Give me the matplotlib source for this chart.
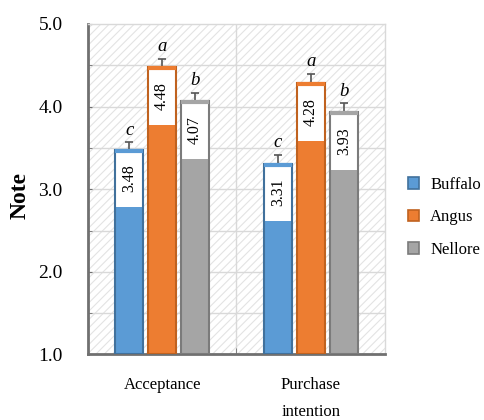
import numpy as np
import matplotlib.pyplot as plt
from matplotlib.patches import Rectangle

plt.rcParams['font.family'] = ['Liberation Serif', 'DejaVu Serif']
plt.rcParams['hatch.linewidth'] = 0.8
plt.rcParams['hatch.color'] = '#e3e3e3'

# Datos
categorias = ["Acceptance", "Purchase\nintention"]
razas = ["Buffalo", "Angus", "Nellore"]
medias = {
    "Buffalo": [3.48, 3.31],
    "Angus": [4.48, 4.28],
    "Nellore": [4.07, 3.93],
}
errores = {
    "Buffalo": [0.09, 0.11],
    "Angus": [0.10, 0.12],
    "Nellore": [0.10, 0.11],
}
letras = {
    "Buffalo": ["c", "c"],
    "Angus": ["a", "a"],
    "Nellore": ["b", "b"],
}

colores = {"Buffalo": "#5b9bd5", "Angus": "#ed7d31", "Nellore": "#a5a5a5"}
bordes = {"Buffalo": "#41719c", "Angus": "#c0621f", "Nellore": "#7b7b7b"}

fig = plt.figure(figsize=(4.85, 4.2), dpi=100)
ax = fig.add_axes([0.181, 0.156, 0.613, 0.787])

ax.set_xlim(-0.5, 1.5)
ax.set_ylim(1.0, 5.0)

# Fondo rayado
ax.add_patch(Rectangle((0, 0), 1, 1, transform=ax.transAxes, facecolor='white',
                       hatch='////', edgecolor='#e3e3e3', lw=0, zorder=0))

# Rejilla
for yv in np.arange(1.5, 5.0, 0.5):
    ax.axhline(yv, color='#d9d9d9', lw=1, zorder=1)
ax.axvline(0.5, color='#d9d9d9', lw=1, zorder=1)

x = np.arange(len(categorias))
ancho = 0.19
paso = 0.222
caja = 0.7

for i, raza in enumerate(razas):
    pos = x + (i - 1) * paso
    vals = np.array(medias[raza])
    # error solo hacia arriba
    ax.errorbar(pos, vals, yerr=[np.zeros(2), errores[raza]], fmt='none',
                ecolor='#555555', elinewidth=1.2, capsize=3, capthick=1.2, zorder=2)
    ax.bar(pos, vals - 1.0, bottom=1.0, width=ancho, color=colores[raza],
           edgecolor='none', zorder=3, label=raza)
    ax.bar(pos, caja, bottom=vals - caja, width=ancho, color='white',
           edgecolor='none', zorder=4)
    ax.bar(pos, vals - 1.0, bottom=1.0, width=ancho, fill=False,
           edgecolor=bordes[raza], lw=1.5, zorder=5)
    ax.hlines(vals - 0.012, pos - ancho / 2, pos + ancho / 2, color=colores[raza],
              lw=3, zorder=6)
    for p, v, e, l in zip(pos, vals, errores[raza], letras[raza]):
        ax.text(p, v - caja / 2, f"{v:.2f}", rotation=90, ha='center', va='center',
                fontsize=11.5, zorder=7)
        ax.text(p, v + e + 0.04, l, ha='center', va='bottom', fontsize=13.5,
                style='italic', zorder=7)

# Ejes
ax.set_yticks(np.arange(1.0, 5.01, 1.0))
ax.set_yticklabels([f"{t:.1f}" for t in np.arange(1.0, 5.01, 1.0)], fontsize=14)
ax.set_yticks(np.arange(1.5, 5.0, 1.0), minor=True)
ax.set_xticks(x)
ax.set_xticklabels(categorias, fontsize=12, linespacing=1.9)
ax.set_xticks([0.5, 1.5], minor=True)
ax.tick_params(axis='x', which='major', length=0, pad=16)
ax.tick_params(axis='x', which='minor', direction='in', length=4, color='#707070')
ax.tick_params(axis='y', which='both', direction='in', length=3, color='#707070', pad=18)
ax.set_ylabel("Note", fontsize=17, fontweight='bold')
ax.yaxis.set_label_coords(-0.192, 0.48)

for lado in ['left', 'bottom']:
    ax.spines[lado].set_color('#707070')
    ax.spines[lado].set_linewidth(2)
for lado in ['top', 'right']:
    ax.spines[lado].set_color('#d9d9d9')
    ax.spines[lado].set_linewidth(1)

# Leyenda
handles = [Rectangle((0, 0), 1, 1, facecolor=colores[r], edgecolor=bordes[r], lw=1.2)
           for r in razas]
ax.legend(handles, razas, loc='center left', bbox_to_anchor=(1.025, 0.415),
          frameon=False, fontsize=12, handlelength=0.7, handleheight=0.7,
          labelspacing=1.0, handletextpad=0.65)

fig.savefig("out.png", dpi=100)
